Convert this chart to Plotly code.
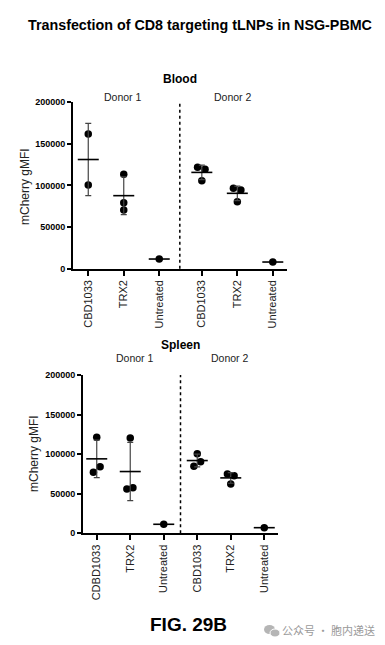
import numpy as np
import plotly.graph_objects as go

# ---------------- data ----------------
TITLE = "Transfection of CD8 targeting tLNPs in NSG-PBMC"
CATS_BLOOD = ["CBD1033", "TRX2", "Untreated", "CBD1033", "TRX2", "Untreated"]
CATS_SPLEEN = ["CDBD1033", "TRX2", "Untreated", "CBD1033", "TRX2", "Untreated"]
DONORS = ["Donor 1", "Donor 2"]
Y_TICKS = [0, 50000, 100000, 150000, 200000]

BLOOD_CBD_D1 = [161600, 100400]
BLOOD_TRX2_D1 = [113300, 79200, 70400]
BLOOD_UNT_D1 = [11600]
BLOOD_CBD_D2 = [121700, 119300, 105600]
BLOOD_TRX2_D2 = [96500, 94400, 80400]
BLOOD_UNT_D2 = [8000]

SPLEEN_CBD_D1 = [121200, 77000, 84000]
SPLEEN_TRX2_D1 = [120500, 56000, 57600]
SPLEEN_UNT_D1 = [11400]
SPLEEN_CBD_D2 = [100600, 84600, 90500]
SPLEEN_TRX2_D2 = [74900, 72800, 62300]
SPLEEN_UNT_D2 = [7100]

BLOOD = [BLOOD_CBD_D1, BLOOD_TRX2_D1, BLOOD_UNT_D1, BLOOD_CBD_D2, BLOOD_TRX2_D2, BLOOD_UNT_D2]
SPLEEN = [SPLEEN_CBD_D1, SPLEEN_TRX2_D1, SPLEEN_UNT_D1, SPLEEN_CBD_D2, SPLEEN_TRX2_D2, SPLEEN_UNT_D2]

# ---------------- layout constants ----------------
POS_BLOOD = [0, 1, 2, 3.2, 4.2, 5.2]
POS_SPLEEN = [0, 1, 2, 3, 4, 5]
JIT_BLOOD = [[0, 0], [0, 0, 0], [0], [-0.12, 0.09, 0], [-0.11, 0.1, 0], [0]]
JIT_SPLEEN = [[0, -0.1, 0.1], [0, -0.1, 0.08], [0], [0, -0.1, 0.1], [-0.1, 0.1, 0], [0]]

W, H = 385, 645
FONT = "Liberation Sans, Arial, sans-serif"


def px(x):
    return x / W


def py(y):
    return 1 - y / H


fig = go.Figure()


def add_panel(values, pos, jit, xa, ya):
    for i, vals in enumerate(values):
        xs = [pos[i] + j for j in jit[i]]
        fig.add_trace(go.Scatter(
            x=xs, y=vals, mode="markers", xaxis=xa, yaxis=ya,
            marker=dict(color="black", size=7.5, line=dict(width=0)),
            cliponaxis=False, showlegend=False, hoverinfo="y"))
        m = float(np.mean(vals))
        sd = float(np.std(vals, ddof=1)) if len(vals) > 1 else 0.0
        fig.add_trace(go.Scatter(
            x=[pos[i]], y=[m], mode="markers", xaxis=xa, yaxis=ya,
            marker=dict(symbol="line-ew-open", size=15, color="black",
                        line=dict(width=1.6, color="black")),
            error_y=dict(type="data", array=[sd], visible=len(vals) > 1,
                         color="#444444", thickness=1.2, width=3),
            cliponaxis=False, showlegend=False, hoverinfo="y"))


add_panel(BLOOD, POS_BLOOD, JIT_BLOOD, "x", "y")
add_panel(SPLEEN, POS_SPLEEN, JIT_SPLEEN, "x2", "y2")

axis_common = dict(showline=True, linecolor="black", linewidth=2, ticks="outside",
                   tickcolor="black", showgrid=False, zeroline=False, mirror=False,
                   automargin=False)
cat_font = dict(size=11, family=FONT, color="#222222")
num_font = dict(size=9, family="Liberation Sans, Arial", weight="bold")

fig.update_layout(
    width=W, height=H, margin=dict(l=0, r=0, t=0, b=0, autoexpand=False),
    paper_bgcolor="white", plot_bgcolor="white",
    font=dict(family=FONT, color="black"),
    xaxis=dict(domain=[px(73), px(287)], range=[-0.43, 5.6], anchor="y",
               tickvals=POS_BLOOD, ticktext=CATS_BLOOD, tickangle=-90,
               ticklen=5, tickwidth=1.5, tickfont=cat_font, **axis_common),
    yaxis=dict(domain=[py(268.7), py(102)], range=[0, 200000], anchor="x",
               tickvals=Y_TICKS, tickformat="d", ticklen=4, tickwidth=2,
               tickfont=num_font, **axis_common),
    xaxis2=dict(domain=[px(83), px(278)], range=[-0.41, 5.41], anchor="y2",
                tickvals=POS_SPLEEN, ticktext=CATS_SPLEEN, tickangle=-90,
                ticklen=5, tickwidth=1.5, tickfont=cat_font, **axis_common),
    yaxis2=dict(domain=[py(533.3), py(375)], range=[0, 200000], anchor="x2",
                tickvals=Y_TICKS, tickformat="d", ticklen=4, tickwidth=2,
                tickfont=num_font, **axis_common),
)

# dividers between donors
fig.add_shape(type="line", xref="x", yref="y domain", x0=2.58, x1=2.58, y0=0, y1=1,
              line=dict(color="black", width=1.5, dash="dot"))
fig.add_shape(type="line", xref="x2", yref="y2 domain", x0=2.5, x1=2.5, y0=0, y1=1,
              line=dict(color="black", width=1.5, dash="dot"))

ann = []


def text(x, y, t, size, bold=False, color="black", angle=0, family=FONT):
    ann.append(dict(x=px(x), y=py(y), xref="paper", yref="paper", text=t,
                    showarrow=False, textangle=angle, xanchor="center", yanchor="middle",
                    font=dict(size=size, color=color, family=family,
                              weight="bold" if bold else "normal")))


text(200, 25, TITLE, 14.3, bold=True)
text(180, 79, "Blood", 12, bold=True)
text(123, 97, DONORS[0], 10.5, color="#222222")
text(233, 97, DONORS[1], 10.5, color="#222222")
text(25, 186, "mCherry gMFI", 12, angle=-90, color="#222222")
text(180, 345, "Spleen", 12, bold=True)
text(135, 357.5, DONORS[0], 10.5, color="#222222")
text(230, 357.5, DONORS[1], 10.5, color="#222222")
text(34, 454, "mCherry gMFI", 12, angle=-90, color="#222222")
text(188, 624, "FIG. 29B", 19, bold=True)
text(328, 630, "公众号 · 胞内递送", 11, color="#9a9a9a", family="Noto Sans CJK SC")
fig.update_layout(annotations=ann)

# small watermark icon
fig.add_shape(type="circle", xref="paper", yref="paper", x0=px(264), x1=px(275),
              y0=py(634), y1=py(625), fillcolor="#b5b5b5", line=dict(width=0))
fig.add_shape(type="circle", xref="paper", yref="paper", x0=px(270), x1=px(280),
              y0=py(637), y1=py(629), fillcolor="#b5b5b5", line=dict(color="white", width=1))

fig.write_html("out.html", config={"displayModeBar": False},
               post_script="document.body.style.margin='0';document.body.style.overflow='hidden';")
